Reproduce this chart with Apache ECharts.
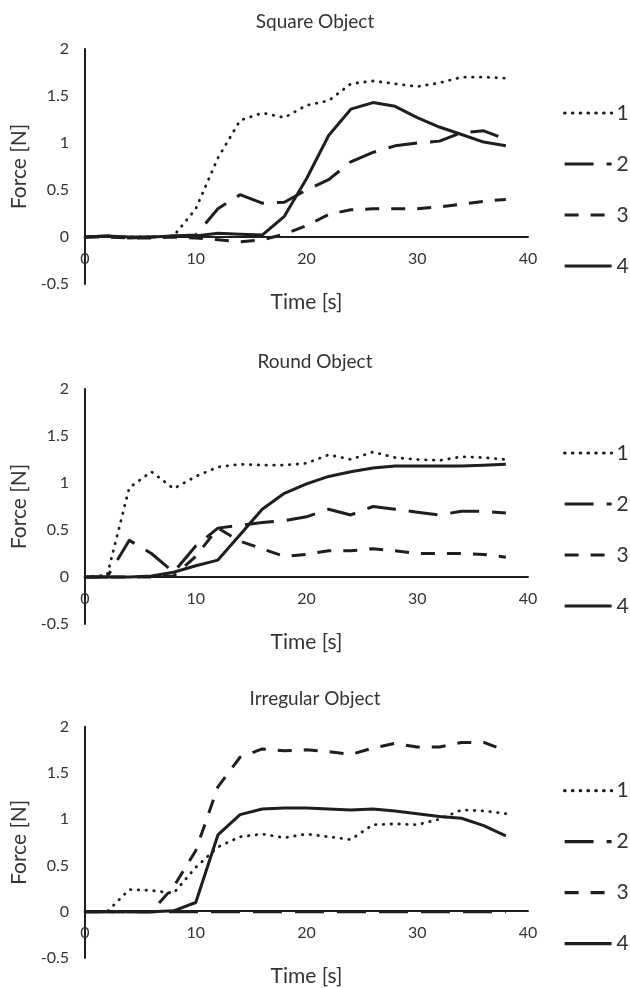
<!DOCTYPE html>
<html>
<head>
<meta charset="utf-8">
<script src="https://cdn.jsdelivr.net/npm/echarts@6/dist/echarts.min.js"></script>
<style>
  html, body { margin: 0; padding: 0; background: #fff; }
  #main { width: 630px; height: 988px; }
</style>
</head>
<body>
<div id="main"></div>
<script>
// time axis (s), one sample every 2 s
const time = [0, 2, 4, 6, 8, 10, 12, 14, 16, 18, 20, 22, 24, 26, 28, 30, 32, 34, 36, 38]

const seriesNames = ['1', '2', '3', '4']
const panelTitles = ['Square Object', 'Round Object', 'Irregular Object']

// Square object
const square1 = [0, 0.01, 0, 0, 0.01, 0.3, 0.84, 1.24, 1.32, 1.27, 1.4, 1.45, 1.63, 1.66, 1.63, 1.6, 1.64, 1.7, 1.7, 1.69]
const square2 = [0, 0.01, -0.01, 0, 0.01, 0.02, 0.3, 0.45, 0.36, 0.37, 0.5, 0.61, 0.8, 0.9, 0.97, 1.0, 1.02, 1.11, 1.13, 1.04]
const square3 = [0, 0, -0.01, -0.01, 0, -0.01, -0.03, -0.05, -0.03, 0.03, 0.12, 0.24, 0.29, 0.3, 0.3, 0.3, 0.32, 0.35, 0.38, 0.4]
const square4 = [0, 0.01, 0, 0, 0.01, 0.01, 0.04, 0.03, 0.02, 0.22, 0.62, 1.08, 1.36, 1.43, 1.39, 1.27, 1.17, 1.09, 1.01, 0.97]

// Round object
const round1 = [0, 0.02, 0.95, 1.12, 0.94, 1.07, 1.17, 1.2, 1.19, 1.19, 1.21, 1.3, 1.25, 1.33, 1.27, 1.25, 1.24, 1.28, 1.27, 1.25]
const round2 = [0, 0, 0.39, 0.25, 0.05, 0.33, 0.52, 0.55, 0.58, 0.6, 0.64, 0.72, 0.66, 0.75, 0.72, 0.69, 0.66, 0.7, 0.7, 0.68]
const round3 = [0, 0, 0, 0, 0.01, 0.22, 0.52, 0.38, 0.3, 0.22, 0.24, 0.28, 0.28, 0.3, 0.28, 0.25, 0.25, 0.25, 0.24, 0.21]
const round4 = [0, 0, 0, 0.01, 0.05, 0.12, 0.18, 0.45, 0.72, 0.89, 0.99, 1.07, 1.12, 1.16, 1.18, 1.18, 1.18, 1.18, 1.19, 1.2]

// Irregular object
const irregular1 = [0, 0, 0.24, 0.23, 0.2, 0.48, 0.7, 0.81, 0.84, 0.8, 0.84, 0.81, 0.78, 0.94, 0.95, 0.94, 1.0, 1.1, 1.09, 1.06]
const irregular2 = [0, 0, 0, 0, 0, 0, 0, 0, 0, 0, 0, 0, 0, 0, 0, 0, 0, 0, 0, 0]
const irregular3 = [0, 0, 0, 0, 0.27, 0.66, 1.35, 1.67, 1.76, 1.74, 1.75, 1.73, 1.7, 1.77, 1.82, 1.78, 1.78, 1.83, 1.83, 1.74]
const irregular4 = [0, 0, 0, 0, 0.01, 0.1, 0.83, 1.05, 1.11, 1.12, 1.12, 1.11, 1.1, 1.11, 1.09, 1.06, 1.03, 1.01, 0.93, 0.82]

const panelData = [
  [square1, square2, square3, square4],
  [round1, round2, round3, round4],
  [irregular1, irregular2, irregular3, irregular4]
]

const FONT = 'Lato'
const INK = '#1e1e1e'
const TEXT = '#333333'

// line look for series 1..4 : dotted, long dash, dash, solid
const lineLooks = [
  { width: 2.8, type: [0.5, 7.3], cap: 'round' },
  { width: 3, type: [29, 13], cap: 'butt' },
  { width: 3, type: [14, 12], cap: 'butt' },
  { width: 3, type: 'solid', cap: 'butt' }
]

const gridTops = [49, 389, 726.7] // top of each plot area
const plotHeight = 235
const zeroFromBottom = plotHeight * 0.5 / 2.5 // y=0 sits 1/5 up the plot

const option = {
  animation: false,
  backgroundColor: '#fff',
  textStyle: { fontFamily: FONT },
  title: [],
  legend: [],
  grid: [],
  xAxis: [],
  yAxis: [],
  series: []
}

panelTitles.forEach((name, p) => {
  const top = gridTops[p]

  option.title.push({
    text: name,
    left: 310,
    textAlign: 'center',
    top: top - 42,
    textStyle: { fontFamily: FONT, fontSize: 19, fontWeight: 'normal', color: TEXT }
  })

  option.grid.push({ left: 85, width: 443, top: top, height: plotHeight })

  // x axis drawn at y = 0, labels and name follow it
  option.xAxis.push({
    gridIndex: p,
    type: 'value',
    min: 0,
    max: 40,
    interval: 10,
    offset: -zeroFromBottom,
    name: 'Time [s]',
    nameLocation: 'middle',
    nameGap: 55,
    nameTextStyle: { fontFamily: FONT, fontSize: 21, color: TEXT },
    axisLine: { onZero: false, lineStyle: { color: INK, width: 2 } },
    axisTick: { show: false },
    splitLine: { show: false },
    axisLabel: { margin: 14, fontFamily: FONT, fontSize: 16, color: TEXT }
  })

  option.yAxis.push({
    gridIndex: p,
    type: 'value',
    min: -0.5,
    max: 2,
    interval: 0.5,
    name: 'Force [N]',
    nameLocation: 'middle',
    nameGap: 52,
    nameTextStyle: { fontFamily: FONT, fontSize: 21, color: TEXT },
    axisLine: { show: true, lineStyle: { color: INK, width: 2 } },
    axisTick: { show: false },
    splitLine: { show: false },
    axisLabel: { margin: 16, fontFamily: FONT, fontSize: 16, color: TEXT }
  })

  option.legend.push({
    data: seriesNames,
    orient: 'vertical',
    left: 558,
    top: top + 47,
    itemWidth: 47,
    itemHeight: 14,
    itemGap: 27,
    itemStyle: { opacity: 0 },
    lineStyle: { width: 3.2 },
    textStyle: { fontFamily: FONT, fontSize: 21, color: TEXT, lineHeight: 24 }
  })

  panelData[p].forEach((values, s) => {
    option.series.push({
      name: seriesNames[s],
      type: 'line',
      xAxisIndex: p,
      yAxisIndex: p,
      symbol: 'none',
      data: time.map((t, i) => [t, values[i]]),
      lineStyle: Object.assign({ color: INK, join: 'round' }, lineLooks[s]),
      itemStyle: { color: INK }
    })
  })
})

const chart = echarts.init(document.getElementById('main'))
chart.setOption(option)
</script>
</body>
</html>
